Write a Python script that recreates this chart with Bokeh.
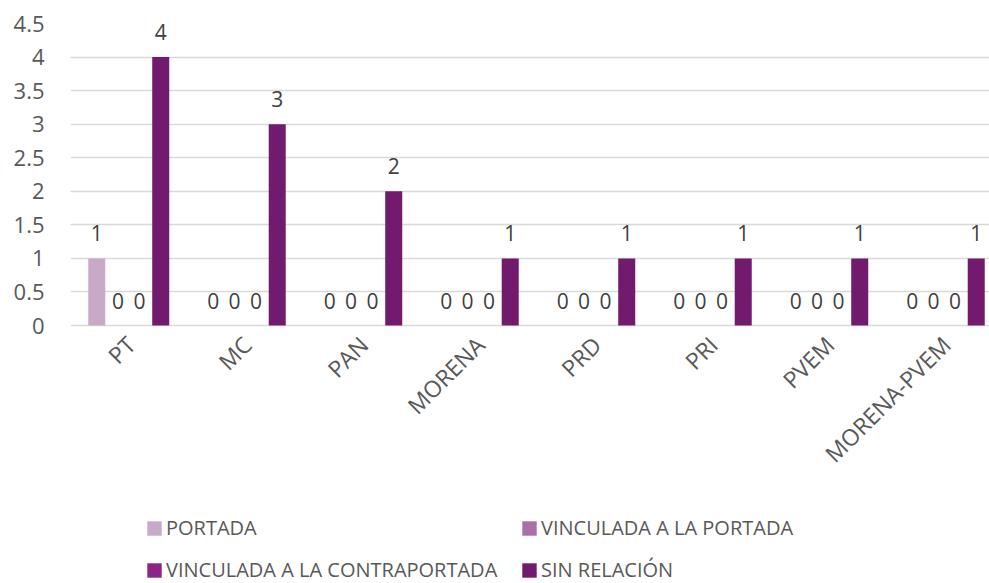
import numpy as np
from bokeh.plotting import figure
from bokeh.models import Range1d, FixedTicker, Legend, LegendItem, ColumnDataSource
from bokeh.core.properties import value
from bokeh.embed import file_html
from bokeh.resources import INLINE

# ---- data ----
categories = ["PT", "MC", "PAN", "MORENA", "PRD", "PRI", "PVEM", "MORENA-PVEM"]
series_names = ["PORTADA", "VINCULADA A LA PORTADA", "VINCULADA A LA CONTRAPORTADA", "SIN RELACIÓN"]
portada = [1, 0, 0, 0, 0, 0, 0, 0]
vinculada_portada = [0, 0, 0, 0, 0, 0, 0, 0]
vinculada_contraportada = [0, 0, 0, 0, 0, 0, 0, 0]
sin_relacion = [4, 3, 2, 1, 1, 1, 1, 1]
y_ticks = [0, 0.5, 1, 1.5, 2, 2.5, 3, 3.5, 4, 4.5]
y_tick_labels = ["0", "0.5", "1", "1.5", "2", "2.5", "3", "3.5", "4", "4.5"]

series_values = [portada, vinculada_portada, vinculada_contraportada, sin_relacion]
colors = ["#C8A9C8", "#A86FA8", "#8A2587", "#711A6E"]

FONT = "Open Sans"
AX_COL = "#595959"
LBL_COL = "#404040"

W, H = 989, 583
LEFT, TOP = 70, 23
ZERO_Y = 325                       # pixel row of the value 0
px_per_unit = (ZERO_Y - TOP) / 4.5
y_bottom = -(H - ZERO_Y) / px_per_unit
cat_px = 116.5
x_end = (W - LEFT) / cat_px

p = figure(width=W, height=H, output_backend="svg", toolbar_location=None,
           x_range=Range1d(0, x_end), y_range=Range1d(y_bottom, 4.5),
           min_border_left=LEFT, min_border_right=0, min_border_top=TOP, min_border_bottom=0)
p.outline_line_color = None
p.background_fill_color = "white"
p.border_fill_color = "white"

slot = 0.183
bar_w = 0.146
offsets = [-1.5 * slot, -0.5 * slot, 0.5 * slot, 1.5 * slot]
centers = np.arange(len(categories)) + 0.5

renderers = []
for name, vals, col, off in zip(series_names, series_values, colors, offsets):
    src = ColumnDataSource(dict(x=centers + off, top=vals, lab=[str(v) for v in vals]))
    r = p.vbar(x="x", top="top", bottom=0, width=bar_w, source=src,
               fill_color=col, line_color=None)
    renderers.append(r)
    p.text(x="x", y="top", text="lab", source=src, text_align="center",
           text_baseline="middle", y_offset=-25, text_font=value(FONT),
           text_font_size="21px", text_color=LBL_COL)

# category labels (rotated 45°, anchored at their end under each group)
cat_src = ColumnDataSource(dict(x=centers, y=[0] * len(categories), lab=categories))
p.text(x="x", y="y", text="lab", source=cat_src, angle=np.pi / 4,
       text_align="right", text_baseline="middle", x_offset=2, y_offset=15,
       text_font=value(FONT), text_font_size="23px", text_color=AX_COL)

# axes
p.xaxis.visible = False
p.yaxis.ticker = FixedTicker(ticks=y_ticks)
p.yaxis.major_label_overrides = {(int(t) if float(t).is_integer() else t): lab
                                 for t, lab in zip(y_ticks, y_tick_labels)}
p.yaxis.axis_line_color = None
p.yaxis.major_tick_line_color = None
p.yaxis.minor_tick_line_color = None
p.yaxis.major_tick_out = 0
p.yaxis.major_tick_in = 0
p.yaxis.major_label_standoff = 26
p.yaxis.major_label_text_font = FONT
p.yaxis.major_label_text_font_size = "22px"
p.yaxis.major_label_text_color = AX_COL

p.xgrid.grid_line_color = None
p.ygrid.ticker = FixedTicker(ticks=y_ticks)
p.ygrid.grid_line_color = "#D9D9D9"
p.ygrid.grid_line_width = 1.5

# legend: 2x2, below the categories
legend_pos = [(75, 42), (450, 42), (75, 0), (450, 0)]
for name, r, loc in zip(series_names, renderers, legend_pos):
    lg = Legend(items=[LegendItem(label=name, renderers=[r])], location=loc,
                padding=0, margin=0, border_line_color=None, background_fill_alpha=0,
                glyph_width=18, glyph_height=18, label_standoff=3, label_height=16,
                label_text_font=FONT, label_text_font_size="20px", label_text_color=AX_COL)
    p.add_layout(lg, "center")

open("out.html", "w").write(file_html(p, INLINE))
